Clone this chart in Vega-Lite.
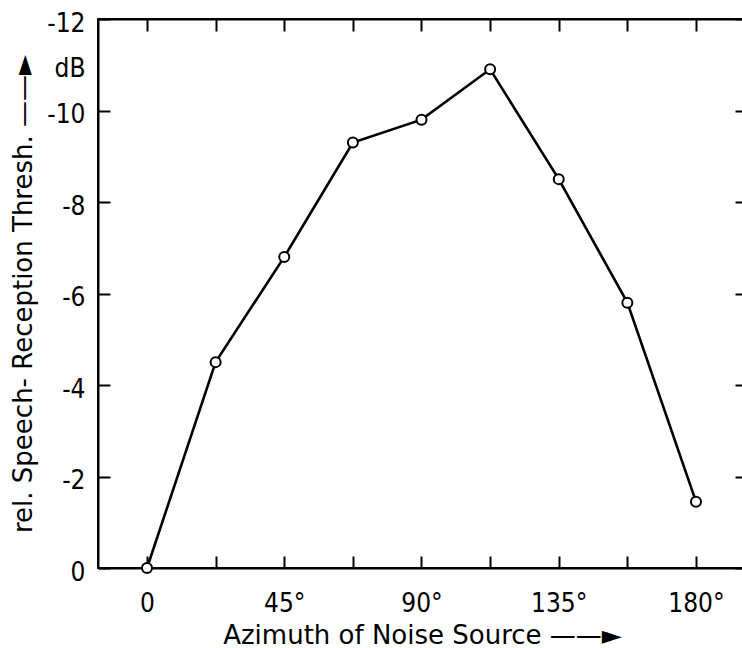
{
  "$schema": "https://vega.github.io/schema/vega-lite/v6.json",
  "autosize": {"type": "none"},
  "padding": {"left": 98, "top": 19, "right": 0, "bottom": 80},
  "width": 648,
  "height": 549,
  "background": "white",
  "config": {
    "view": {"stroke": "black", "strokeWidth": 2},
    "font": "DejaVu Sans Condensed",
    "axis": {
      "labelFont": "DejaVu Sans Condensed",
      "titleFont": "DejaVu Sans",
      "labelColor": "black",
      "titleColor": "black",
      "tickColor": "black",
      "domainColor": "black",
      "grid": false
    }
  },
  "data": {
    "values": [
      {"azimuth": 0, "srt": 0},
      {"azimuth": 22.5, "srt": -4.5},
      {"azimuth": 45, "srt": -6.8},
      {"azimuth": 67.5, "srt": -9.3},
      {"azimuth": 90, "srt": -9.8},
      {"azimuth": 112.5, "srt": -10.9},
      {"azimuth": 135, "srt": -8.5},
      {"azimuth": 157.5, "srt": -5.8},
      {"azimuth": 180, "srt": -1.45}
    ]
  },
  "layer": [
    {
      "mark": {"type": "line", "color": "black", "strokeWidth": 2.6},
      "encoding": {
        "x": {
          "field": "azimuth", "type": "quantitative",
          "scale": {"domain": [-16.07, 196.4], "nice": false, "zero": false},
          "axis": {
            "orient": "bottom",
            "values": [0, 22.5, 45, 67.5, 90, 112.5, 135, 157.5, 180],
            "labelExpr": "datum.value == 0 ? '0' : (datum.value % 45 == 0 ? datum.value + '°' : '')",
            "tickSize": -12, "tickWidth": 2, "domainWidth": 2,
            "labelFontSize": 26, "labelPadding": 34,
            "title": "Azimuth of Noise Source ——►",
            "titleFontSize": 26, "titleFontWeight": "normal", "titlePadding": 6
          }
        },
        "y": {
          "field": "srt", "type": "quantitative",
          "scale": {"domain": [-12, 0], "reverse": true, "nice": false, "zero": false},
          "axis": {
            "orient": "left",
            "values": [-12, -11, -10, -8, -6, -4, -2, 0],
            "labelExpr": "datum.value == -11 ? 'dB' : (datum.value == 0 ? '0' : '-' + abs(datum.value))",
            "tickOpacity": {"condition": {"test": "datum.value == -11", "value": 0}, "value": 1},
            "tickSize": -12, "tickWidth": 2, "domainWidth": 2,
            "labelFontSize": 26, "labelPadding": 25, "labelOffset": 4,
            "title": "rel. Speech- Reception Thresh. ——►",
            "titleFontSize": 26, "titleFontWeight": "normal", "titlePadding": 10
          }
        }
      }
    },
    {
      "mark": {"type": "point", "shape": "circle", "filled": true, "fill": "white", "stroke": "black", "strokeWidth": 2, "size": 100, "opacity": 1},
      "encoding": {
        "x": {
          "field": "azimuth", "type": "quantitative",
          "axis": {
            "orient": "top",
            "values": [0, 22.5, 45, 67.5, 90, 112.5, 135, 157.5, 180],
            "labels": false, "title": null,
            "tickSize": -12, "tickWidth": 2, "domainWidth": 2
          }
        },
        "y": {
          "field": "srt", "type": "quantitative",
          "axis": {
            "orient": "right",
            "values": [-12, -10, -8, -6, -4, -2, 0],
            "labels": false, "title": null,
            "tickSize": -11, "tickWidth": 2, "domain": false
          }
        }
      }
    }
  ],
  "resolve": {"axis": {"x": "independent", "y": "independent"}}
}
